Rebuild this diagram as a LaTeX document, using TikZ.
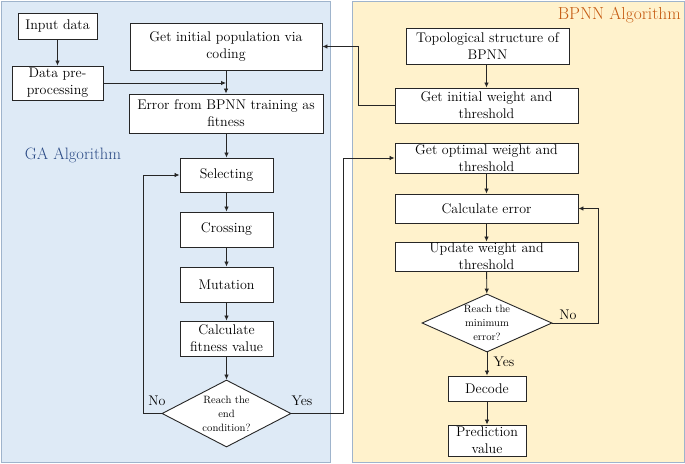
\documentclass[tikz,border=0pt]{standalone}
\usetikzlibrary{arrows.meta,shapes.geometric}
\definecolor{gabg}{HTML}{DEEAF6}
\definecolor{bpbg}{HTML}{FFF2CC}
\definecolor{panelline}{HTML}{9FB4CC}
\definecolor{gatext}{HTML}{2A4A85}
\definecolor{bptext}{HTML}{C55A11}
\begin{document}
\begin{tikzpicture}[x=1pt,y=-1pt,
  box/.style={draw=black!85, fill=white, line width=0.9pt, align=center, inner sep=0pt, font=\fontsize{14}{17}\selectfont},
  dia/.style={diamond, draw=black!85, fill=white, line width=0.9pt, align=center, inner sep=0pt, aspect=2.2, font=\fontsize{10.6}{14}\selectfont},
  arr/.style={line width=0.85pt, draw=black!85, -{Latex[length=5pt,width=4.5pt]}},
  lab/.style={font=\fontsize{14}{16}\selectfont, inner sep=0pt},
  panel/.style={draw=panelline, line width=1pt}]
\useasboundingbox (0,0) rectangle (685,463);
% panels
\path[panel, fill=gabg] (1,1) rectangle (330,462);
\path[panel, fill=bpbg] (352,1) rectangle (684,462);
\node[font=\fontsize{16.5}{18}\selectfont, text=gatext, inner sep=0pt] (galab) at (73,155) {GA Algorithm};
\node[font=\fontsize{17.4}{19}\selectfont, text=bptext, inner sep=0pt, anchor=east] (bplab) at (681,15) {BPNN Algorithm};
% GA nodes
\node[box, minimum width=79, minimum height=26] (input) at (57.5,26) {Input data};
\node[box, minimum width=91, minimum height=34] (prep) at (57.5,83) {Data pre-\\processing};
\node[box, minimum width=192, minimum height=47] (initpop) at (226,46.5) {Get initial population via\\coding};
\node[box, minimum width=194, minimum height=39] (err) at (226,113.5) {Error from BPNN training as\\fitness};
\node[box, minimum width=93, minimum height=34] (sel) at (226.5,175) {Selecting};
\node[box, minimum width=93, minimum height=35] (cross) at (226.5,229.5) {Crossing};
\node[box, minimum width=93, minimum height=35] (mut) at (226.5,284.5) {Mutation};
\node[box, minimum width=93, minimum height=35] (fit) at (226.5,338.5) {Calculate\\fitness value};
\node[dia, minimum width=129, minimum height=67] (gadia) at (226.5,413.5) {Reach the\\end\\condition?};
% BPNN nodes
\node[box, minimum width=163, minimum height=36] (topo) at (487.5,46) {Topological structure of\\BPNN};
\node[box, minimum width=183, minimum height=35] (initw) at (486.5,105.5) {Get initial weight and\\threshold};
\node[box, minimum width=183, minimum height=30] (optw) at (486.5,158) {Get optimal weight and\\threshold};
\node[box, minimum width=183, minimum height=29] (calcerr) at (486.5,208.5) {Calculate error};
\node[box, minimum width=183, minimum height=29] (upd) at (486.5,256.5) {Update weight and\\threshold};
\node[dia, minimum width=130, minimum height=58] (bpdia) at (487,323) {Reach the\\minimum\\error?};
\node[box, minimum width=78, minimum height=25] (dec) at (487,388.5) {Decode};
\node[box, minimum width=78, minimum height=31] (pred) at (487,440.5) {Prediction\\value};
% helper coordinates
\coordinate (j1) at (226,83);
\coordinate (c1) at (358,105.5);
\coordinate (c2) at (143,413.5);
\coordinate (c3) at (343,413.5);
\coordinate (c4) at (598,323);
% GA connectors
\draw[arr] (input) -- (prep);
\draw[arr] (prep.east) -- (j1);
\draw[arr] (initpop) -- (err);
\draw[arr] (err.south -| sel) -- (sel);
\draw[arr] (sel) -- (cross);
\draw[arr] (cross) -- (mut);
\draw[arr] (mut) -- (fit);
\draw[arr] (fit) -- (gadia);
\draw[arr] (gadia.west) -- (c2) |- (sel.west);
\draw[arr] (gadia.east) -- (c3) |- (optw.west);
% BPNN connectors
\draw[arr] (topo.south -| initw) -- (initw);
\draw[arr] (initw.west) -- (c1) |- (initpop.east);
\draw[arr] (optw) -- (calcerr);
\draw[arr] (calcerr) -- (upd);
\draw[arr] (upd) -- (bpdia);
\draw[arr] (bpdia.east) -- (c4) |- (calcerr.east);
\draw[arr] (bpdia) -- (dec);
\draw[arr] (dec) -- (pred);
% labels
\node[lab] (no1) at (157,401) {No};
\node[lab] (yes1) at (302,401) {Yes};
\node[lab] (no2) at (568,315) {No};
\node[lab] (yes2) at (504,362) {Yes};
\end{tikzpicture}
\end{document}
